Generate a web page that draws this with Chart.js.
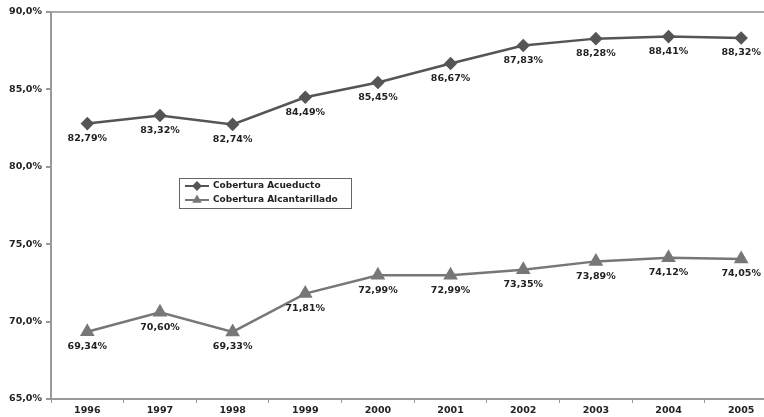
<!DOCTYPE html>
<html>
<head>
<meta charset="utf-8">
<script src="https://cdn.jsdelivr.net/npm/chart.js@4"></script>
<style>
  html, body { margin: 0; padding: 0; background: #fff; overflow: hidden; }
  #wrap { width: 786px; height: 417px; }
</style>
</head>
<body>
<div id="wrap"><canvas id="myChart" width="786" height="417"></canvas></div>
<script>
const years = ['1996', '1997', '1998', '1999', '2000', '2001', '2002', '2003', '2004', '2005']
const acueducto = [82.79, 83.32, 82.74, 84.49, 85.45, 86.67, 87.83, 88.28, 88.41, 88.32]
const alcantarillado = [69.34, 70.60, 69.33, 71.81, 72.99, 72.99, 73.35, 73.89, 74.12, 74.05]
const seriesNames = ['Cobertura Acueducto', 'Cobertura Alcantarillado']

const txtColor = '#222'
const fontFam = '"DejaVu Sans", sans-serif'

const fmt = (v, d) => v.toFixed(d).replace('.', ',') + '%'

// etiquetas de valor debajo de cada punto
const valueLabels = {
  id: 'valueLabels',
  afterDatasetsDraw(chart) {
    const ctx = chart.ctx
    ctx.save()
    ctx.font = 'bold 9.5px ' + fontFam
    ctx.fillStyle = txtColor
    ctx.textAlign = 'center'
    ctx.textBaseline = 'middle'
    chart.data.datasets.forEach((ds, i) => {
      chart.getDatasetMeta(i).data.forEach((pt, j) => {
        ctx.fillText(fmt(ds.data[j], 2), pt.x, pt.y + 15)
      })
    })
    ctx.restore()
  }
}

// leyenda con marco dentro del area del grafico
const boxLegend = {
  id: 'boxLegend',
  afterDraw(chart) {
    const ctx = chart.ctx
    const a = chart.chartArea
    const x = a.left + 128, y = a.top + 166, w = 172, h = 30
    ctx.save()
    ctx.fillStyle = '#fff'
    ctx.fillRect(x, y, w, h)
    ctx.strokeStyle = '#666'
    ctx.lineWidth = 1
    ctx.strokeRect(x + 0.5, y + 0.5, w, h)
    ctx.font = 'bold 9px ' + fontFam
    ctx.textBaseline = 'middle'
    chart.data.datasets.forEach((ds, i) => {
      const ly = y + 8 + i * 14
      ctx.strokeStyle = ds.borderColor
      ctx.lineWidth = 2
      ctx.beginPath()
      ctx.moveTo(x + 6, ly)
      ctx.lineTo(x + 30, ly)
      ctx.stroke()
      Chart.helpers.drawPoint(ctx, { pointStyle: ds.pointStyle, radius: 3.5, borderWidth: 1 }, x + 18, ly)
      ctx.fillStyle = ds.borderColor
      ctx.fill()
      ctx.fillStyle = txtColor
      ctx.fillText(ds.label, x + 34, ly)
    })
    ctx.restore()
  }
}

const data = {
  labels: years,
  datasets: [{
    label: seriesNames[0],
    data: acueducto,
    borderColor: '#555',
    backgroundColor: '#555',
    borderWidth: 2.5,
    pointStyle: 'rectRot',
    pointRadius: 5,
    pointHoverRadius: 5
  }, {
    label: seriesNames[1],
    data: alcantarillado,
    borderColor: '#777',
    backgroundColor: '#777',
    borderWidth: 2.5,
    pointStyle: 'triangle',
    pointRadius: 6,
    pointHoverRadius: 6
  }]
}

const config = {
  type: 'line',
  data: data,
  options: {
    responsive: false,
    animation: false,
    layout: { padding: { top: 12, right: 4, left: 0, bottom: 0 } },
    plugins: { legend: { display: false }, tooltip: { enabled: false } },
    scales: {
      x: {
        offset: true,
        grid: { offset: true, drawOnChartArea: false, drawTicks: true, tickLength: 4, color: '#999' },
        border: { color: '#999', width: 2 },
        ticks: { color: txtColor, font: { family: fontFam, size: 9.5, weight: 'bold' }, padding: 2, maxRotation: 0 },
        afterFit: s => { s.height = 18 }
      },
      y: {
        min: 65,
        max: 90,
        ticks: {
          stepSize: 5,
          color: txtColor,
          font: { family: fontFam, size: 9.5, weight: 'bold' },
          padding: 4,
          callback: v => fmt(v, 1)
        },
        grid: {
          tickLength: 5,
          color: ctx => ctx.tick && ctx.tick.value === 90 ? '#aaa' : 'rgba(0,0,0,0)',
          lineWidth: 2,
          tickColor: '#999'
        },
        border: { color: '#999', width: 2 },
        afterFit: s => { s.width = 51 }
      }
    }
  },
  plugins: [valueLabels, boxLegend]
}

const myChart = new Chart(document.getElementById('myChart'), config)
</script>
</body>
</html>
